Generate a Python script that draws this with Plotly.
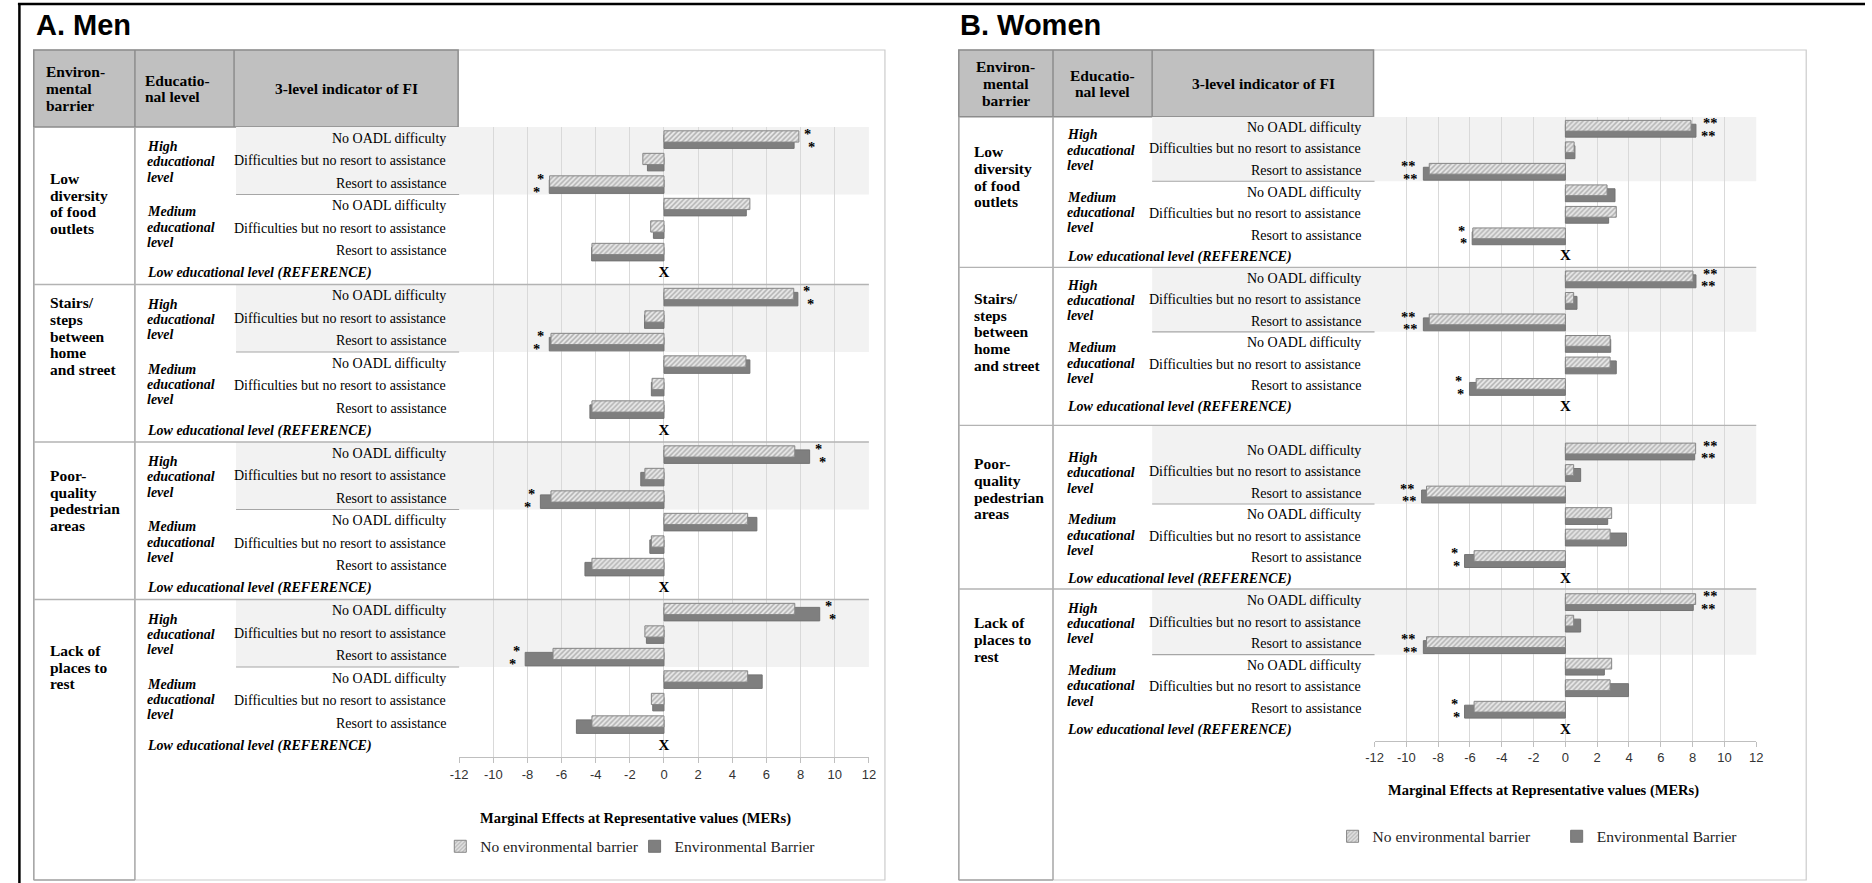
import plotly.graph_objects as go

W, H = 1872, 883
SERIF = "Liberation Serif"
SANS = "Liberation Sans"

# ---------------- data ----------------
BARRIERS = [
    ["Low", "diversity", "of food", "outlets"],
    ["Stairs/", "steps", "between", "home", "and street"],
    ["Poor-", "quality", "pedestrian", "areas"],
    ["Lack of", "places to", "rest"],
]
EDU_LEVELS = [["High", "educational", "level"], ["Medium", "educational", "level"]]
REFERENCE_LABEL = "Low educational level (REFERENCE)"
FI_LEVELS = ["No OADL difficulty", "Difficulties but no resort to assistance", "Resort to assistance"]
HEADERS = [["Environ-", "mental", "barrier"], ["Educatio-", "nal level"], ["3-level indicator of FI"]]
SERIES = ["No environmental barrier", "Environmental Barrier"]
X_TITLE = "Marginal Effects at Representative values (MERs)"
TICKS = [-12, -10, -8, -6, -4, -2, 0, 2, 4, 6, 8, 10, 12]
TICK_LABELS = ["-12", "-10", "-8", "-6", "-4", "-2", "0", "2", "4", "6", "8", "10", "12"]

# per barrier: high edu (no OADL, difficulties, assistance), medium edu (same)
men_no_barrier = [7.90, -1.24, -6.70, 5.03, -0.78, -4.22,
                  7.60, -1.12, -6.62, 4.80, -0.70, -4.22,
                  7.66, -1.12, -6.62, 4.90, -0.74, -4.22,
                  7.66, -1.12, -6.50, 4.90, -0.74, -4.22]
men_barrier = [7.62, -0.97, -6.72, 4.82, -0.62, -4.24,
               7.84, -1.14, -6.72, 5.03, -0.74, -4.34,
               8.53, -1.36, -7.24, 5.44, -0.83, -4.63,
               9.12, -1.03, -8.13, 5.75, -0.66, -5.13]
men_no_barrier_sig = ["*", "", "*", "", "", ""] * 4
men_barrier_sig = ["*", "", "*", "", "", ""] * 4

women_no_barrier = [7.90, 0.55, -8.56, 2.62, 3.20, -5.82,
                    8.02, 0.52, -8.56, 2.81, 2.81, -5.61,
                    8.19, 0.52, -8.73, 2.91, 2.81, -5.74,
                    8.19, 0.52, -8.73, 2.91, 2.81, -5.74]
women_barrier = [8.21, 0.60, -8.93, 3.12, 2.72, -5.86,
                 8.21, 0.73, -8.93, 2.85, 3.20, -6.03,
                 8.13, 0.96, -9.04, 2.66, 3.84, -6.34,
                 8.04, 0.96, -8.93, 2.45, 3.97, -6.34]
women_no_barrier_sig = ["**", "", "**", "", "", "*"] * 4
women_barrier_sig = ["**", "", "**", "", "", "*"] * 4


def px(x):
    return x / W


def py(y):
    return 1 - y / H


# layout of the two panels (pixel geometry of the original figure)
PANELS = [
    dict(title="A. Men", title_xy=(26, 25), xa="x", ya="y", legends=("legend", "legend2"),
         no=men_no_barrier, env=men_barrier, no_sig=men_no_barrier_sig, env_sig=men_barrier_sig,
         starts=[0, 7, 14, 21], nrows=28, dividers=[6.5, 13.5, 20.5],
         barrier_rows=[2.9, 8.8, 16.1, 23.5],
         frame=(25, 50, 883.5, 880), cols=(127, 227), head_bottom=127,
         lab_left=229, lab_right=441.7, plot=(454, 127, 867.3, 757),
         barrier_x=40, edu_x=138, head_centered=False, head_x=(36, 136, 340),
         xtitle=(632, 818), legend_text_x=(477, 673), legend_y=846.7, star_gaps=(4, 8)),
    dict(title="B. Women", title_xy=(958, 25), xa="x2", ya="y2", legends=("legend3", "legend4"),
         no=women_no_barrier, env=women_barrier, no_sig=women_no_barrier_sig, env_sig=women_barrier_sig,
         starts=[0, 7, 15, 22], nrows=29, dividers=[6.5, 13.85, 21.45],
         barrier_rows=[2.3, 9.5, 16.8, 23.8],
         frame=(958, 50, 1812.7, 880), cols=(1053, 1153), head_bottom=116.7,
         lab_left=1153, lab_right=1365, plot=(1377.3, 116.7, 1762.3, 740.7),
         barrier_x=972, edu_x=1066, head_centered=True, head_x=(1005.5, 1103, 1265),
         xtitle=(1548, 790), legend_text_x=(1377, 1603), legend_y=836.7, star_gaps=(6, 4)),
]

fig = go.Figure()
shapes = []


def add_lines(lines, x, y, xref, yref, size, spacing, xanchor, fmt):
    n = len(lines)
    for i, ln in enumerate(lines):
        fig.add_annotation(x=x, y=y, xref=xref, yref=yref, text=fmt.format(ln),
                           showarrow=False, xanchor=xanchor, yanchor="middle", borderpad=0,
                           yshift=((n - 1) / 2 - i) * spacing,
                           font=dict(family=SERIF, size=size, color="black"))


for p in PANELS:
    xa, ya = p["xa"], p["ya"]
    pl, pt, pr, pb = p["plot"]
    fl, ft, fr, fb = p["frame"]
    c1, c2 = p["cols"]
    hb = p["head_bottom"]

    rows = []
    for s in p["starts"]:
        rows += [s + i for i in range(6)]
    ref_rows = [s + 6 for s in p["starts"]]

    # bars: solid one behind, hatched one in front
    fig.add_trace(go.Bar(
        x=p["env"], y=rows, orientation="h", xaxis=xa, yaxis=ya,
        width=0.6, offset=-0.15, name=SERIES[1], legend=p["legends"][1],
        marker=dict(color="#7f7f7f", line=dict(color="#737373", width=1)),
        hoverinfo="x"))
    fig.add_trace(go.Bar(
        x=p["no"], y=rows, orientation="h", xaxis=xa, yaxis=ya,
        width=0.5, offset=-0.33, name=SERIES[0], legend=p["legends"][0],
        marker=dict(color="#e9e9e9", line=dict(color="#858585", width=1),
                    pattern=dict(shape="/", fgcolor="#7a7a7a", size=3.5, solidity=0.45)),
        hoverinfo="x"))
    # reference rows
    fig.add_trace(go.Scatter(
        x=[0] * len(ref_rows), y=ref_rows, mode="text", text=["<b>X</b>"] * len(ref_rows),
        textfont=dict(family=SERIF, size=15, color="black"), xaxis=xa, yaxis=ya,
        showlegend=False, hoverinfo="skip"))

    # significance stars, placed just beyond the longer bar of the row
    for k, (sigs, dy) in enumerate([(p["no_sig"], -0.32), (p["env_sig"], 0.26)]):
        gap = p["star_gaps"][k]
        for a, b, s, r in zip(p["no"], p["env"], sigs, rows):
            if not s:
                continue
            end = max(a, b) if a > 0 else min(a, b)
            fig.add_annotation(x=end, y=r + dy, xref=xa, yref=ya, text="<b>%s</b>" % s,
                               showarrow=False, borderpad=0, height=11, valign="middle",
                               xanchor="left" if end > 0 else "right",
                               xshift=gap if end > 0 else -gap, yshift=-2,
                               font=dict(family=SERIF, size=14.5, color="black"))

    # axes and legends
    n = "" if xa == "x" else "2"
    layout = {
        "xaxis" + n: dict(domain=[px(pl), px(pr)], range=[-12, 12], anchor=ya,
                          tickvals=TICKS, ticktext=TICK_LABELS, showgrid=True,
                          gridcolor="#d9d9d9", gridwidth=1, zeroline=False,
                          showline=True, linecolor="#bfbfbf", linewidth=1,
                          ticks="outside", ticklen=5, tickcolor="#bfbfbf",
                          tickfont=dict(family=SANS, size=13, color="#333333"),
                          fixedrange=True),
        "yaxis" + n: dict(domain=[py(pb), py(pt)], range=[p["nrows"] - 0.5, -0.5], anchor=xa,
                          showgrid=False, zeroline=False, showticklabels=False,
                          showline=False, ticks="", fixedrange=True),
    }
    for lg, tx in zip(p["legends"], p["legend_text_x"]):
        layout[lg] = dict(x=px(tx - 42), y=py(p["legend_y"]), xanchor="left", yanchor="middle",
                          orientation="h", bgcolor="rgba(0,0,0,0)",
                          font=dict(family=SERIF, size=15.5, color="#222222"))
    fig.update_layout(**layout)

    # frame and header
    shapes.append(dict(type="rect", xref="paper", yref="paper", x0=px(fl), x1=px(fr),
                       y0=py(fb), y1=py(ft), line=dict(color="#cccccc", width=1.2), layer="below"))
    shapes.append(dict(type="rect", xref="paper", yref="paper", x0=px(fl), x1=px(pl - 1),
                       y0=py(hb), y1=py(ft), fillcolor="#c0c0c0",
                       line=dict(color="#8c8c8c", width=1.5), layer="below"))
    for cx in (c1, c2):
        shapes.append(dict(type="line", xref="paper", yref="paper", x0=px(cx), x1=px(cx),
                           y0=py(hb), y1=py(ft), line=dict(color="#8c8c8c", width=1.5)))
    # table body verticals
    for cx in (fl, c1):
        shapes.append(dict(type="line", xref="paper", yref="paper", x0=px(cx), x1=px(cx),
                           y0=py(fb), y1=py(hb), line=dict(color="#a6a6a6", width=1.5)))
    shapes.append(dict(type="line", xref="paper", yref="paper", x0=px(fl), x1=px(c1),
                       y0=py(fb), y1=py(fb), line=dict(color="#a6a6a6", width=1.5)))

    # shading of the high-education rows, separators
    tops = [-0.5] + p["dividers"]
    for b, s in enumerate(p["starts"]):
        shapes.append(dict(type="rect", xref="paper", yref=ya, x0=px(p["lab_left"]), x1=px(pr),
                           y0=tops[b], y1=s + 2.5, fillcolor="#f2f2f2", line=dict(width=0),
                           layer="below"))
        shapes.append(dict(type="line", xref="paper", yref=ya, x0=px(p["lab_left"]), x1=px(pl),
                           y0=s + 2.5, y1=s + 2.5, line=dict(color="#a6a6a6", width=1.2)))
    for d in p["dividers"]:
        shapes.append(dict(type="line", xref="paper", yref=ya, x0=px(fl), x1=px(pr),
                           y0=d, y1=d, line=dict(color="#b3b3b3", width=1.3)))

    # texts: title, header
    fig.add_annotation(x=px(p["title_xy"][0]), y=py(p["title_xy"][1]), xref="paper", yref="paper",
                       text="<b>%s</b>" % p["title"], showarrow=False, xanchor="left", yanchor="middle",
                       borderpad=0, font=dict(family=SANS, size=29, color="black"))
    hy = py((ft + hb) / 2)
    for i, lines in enumerate(HEADERS):
        anchor = "center" if (p["head_centered"] or i == 2) else "left"
        add_lines(lines, px(p["head_x"][i]), hy, "paper", "paper", 15.5, 16.7, anchor, "<b>{}</b>")

    # texts: table body
    for b, s in enumerate(p["starts"]):
        add_lines(BARRIERS[b], px(p["barrier_x"]), p["barrier_rows"][b], "paper", ya,
                  15.5, 16.7, "left", "<b>{}</b>")
        add_lines(EDU_LEVELS[0], px(p["edu_x"]), s + 1.05, "paper", ya, 14, 15.3, "left", "<b><i>{}</i></b>")
        add_lines(EDU_LEVELS[1], px(p["edu_x"]), s + 3.95, "paper", ya, 14, 15.3, "left", "<b><i>{}</i></b>")
        add_lines([REFERENCE_LABEL], px(p["edu_x"]), s + 6, "paper", ya, 14, 15.3, "left", "<b><i>{}</i></b>")
        for i in range(6):
            add_lines([FI_LEVELS[i % 3]], px(p["lab_right"]), s + i, "paper", ya, 14, 15, "right", "{}")

    fig.add_annotation(x=px(p["xtitle"][0]), y=py(p["xtitle"][1]), xref="paper", yref="paper",
                       text="<b>%s</b>" % X_TITLE, showarrow=False, xanchor="center", yanchor="middle",
                       borderpad=0, font=dict(family=SERIF, size=14.5, color="black"))

# outer black frame (top and left edges)
shapes.append(dict(type="line", xref="paper", yref="paper", x0=px(9), x1=1, y0=py(4), y1=py(4),
                   line=dict(color="black", width=2.5)))
shapes.append(dict(type="line", xref="paper", yref="paper", x0=px(10.5), x1=px(10.5), y0=0, y1=py(4),
                   line=dict(color="black", width=2.5)))

fig.update_layout(
    width=W, height=H, margin=dict(l=0, r=0, t=0, b=0),
    paper_bgcolor="white", plot_bgcolor="rgba(0,0,0,0)",
    barmode="overlay", showlegend=True, shapes=shapes,
)

fig.write_html("out.html", config={"displayModeBar": False},
               post_script="document.body.style.margin='0px';")
